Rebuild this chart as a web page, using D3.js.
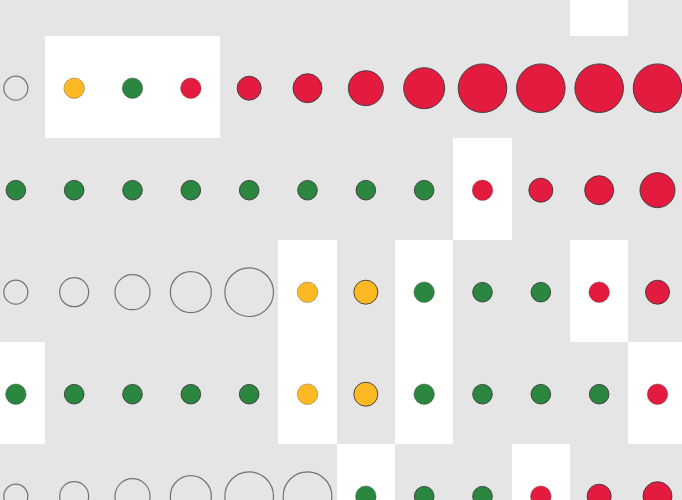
<!DOCTYPE html>
<html>
<head>
<meta charset="utf-8">
<script src="https://cdn.jsdelivr.net/npm/d3@7"></script>
<style>
  html, body { margin: 0; padding: 0; background: #e5e5e5; overflow: hidden; }
  svg { display: block; }
</style>
</head>
<body>
<div class="container"></div>
<script>
// steps along the x axis (12 columns), rows of the grid (top one cut off)
var steps = d3.range(12);
var rows = d3.range(6);

// state per cell: o = empty, y = amber, g = green, r = red
var row1States = ["o", "y", "g", "r", "r", "r", "r", "r", "r", "r", "r", "r"];
var row2States = ["g", "g", "g", "g", "g", "g", "g", "g", "r", "r", "r", "r"];
var row3States = ["o", "o", "o", "o", "o", "y", "y", "g", "g", "g", "r", "r"];
var row4States = ["g", "g", "g", "g", "g", "y", "y", "g", "g", "g", "g", "r"];
var row5States = ["o", "o", "o", "o", "o", "o", "g", "g", "g", "r", "r", "r"];

// circle size values (area-like)
var row1Sizes = [144, 106, 106, 106, 144, 210, 306, 420, 590, 590, 590, 590];
var row2Sizes = [96, 96, 96, 96, 96, 96, 96, 96, 106, 144, 210, 306];
var row3Sizes = [144, 210, 306, 420, 590, 106, 144, 106, 96, 96, 106, 144];
var row4Sizes = [106, 96, 96, 96, 96, 106, 144, 106, 96, 96, 96, 106];
var row5Sizes = [144, 210, 306, 420, 590, 590, 106, 96, 96, 106, 144, 210];

// highlighted (white) cells: [row, step]
var highlights = [
    [0, 10],
    [1, 1], [1, 2], [1, 3],
    [2, 8],
    [3, 5], [3, 7], [3, 10],
    [4, 0], [4, 5], [4, 7], [4, 11],
    [5, 6], [5, 9]
];

var config = {
    width: 682,
    height: 500,
    colors: { o: "none", y: "#fdb924", g: "#2b8640", r: "#e31b3e" }
};

var rowStates = [null, row1States, row2States, row3States, row4States, row5States];
var rowSizes = [null, row1Sizes, row2Sizes, row3Sizes, row4Sizes, row5Sizes];

var cells = [];
rows.forEach((r) => {
    if (!rowStates[r]) return;
    steps.forEach((s) => {
        cells.push({ row: r, step: s, state: rowStates[r][s], size: rowSizes[r][s] });
    });
});

var isWhite = (r, s) => highlights.some((h) => h[0] === r && h[1] === s);

var x = d3.scaleBand().domain(steps).range([-13.33, 686.67]);
var y = d3.scaleBand().domain(rows).range([-66.3, 545.7]);
var radius = d3.scaleSqrt().domain([0, 590]).range([0, 24.3]);

var svg = d3.select(".container")
    .append("svg")
    .attr("width", config.width)
    .attr("height", config.height);

svg.append("rect")
    .attr("width", config.width)
    .attr("height", config.height)
    .attr("fill", "#e5e5e5");

// white cells, snapped to whole pixels so neighbours join without seams
svg.append("g")
    .attr("shape-rendering", "crispEdges")
    .selectAll("rect")
    .data(highlights)
    .join("rect")
    .attr("x", (d) => Math.round(x(d[1])))
    .attr("y", (d) => Math.round(y(d[0])))
    .attr("width", (d) => Math.round(x(d[1]) + x.bandwidth()) - Math.round(x(d[1])))
    .attr("height", (d) => Math.round(y(d[0]) + y.bandwidth()) - Math.round(y(d[0])))
    .attr("fill", "#ffffff");

svg.append("g")
    .selectAll("circle")
    .data(cells)
    .join("circle")
    .attr("cx", (d) => x(d.step) + x.bandwidth() / 2)
    .attr("cy", (d) => y(d.row) + y.bandwidth() / 2 + 1.5)
    .attr("r", (d) => radius(d.size))
    .attr("fill", (d) => config.colors[d.state])
    .attr("stroke", (d) => d.state === "o" ? "#666" : "#3a3a3a")
    .attr("stroke-opacity", (d) => isWhite(d.row, d.step) ? 0.35 : 0.9)
    .attr("stroke-width", (d) => d.state === "o" ? 1.2 : 1);
</script>
</body>
</html>
